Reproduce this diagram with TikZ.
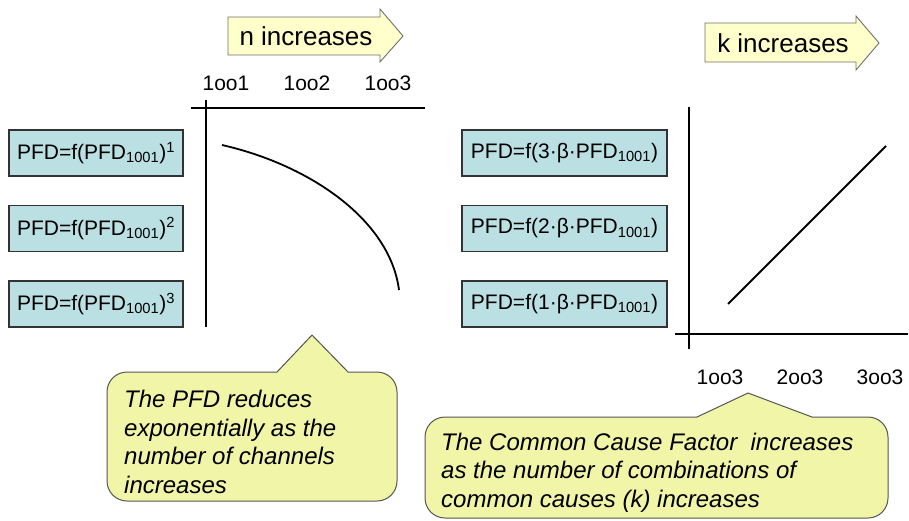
\documentclass[tikz,border=0pt]{standalone}
\usepackage{fontspec}
\setmainfont{Liberation Sans}
\usepackage{xcolor}
\usepackage{tikz}
\definecolor{boxfill}{HTML}{BBE0E3}
\definecolor{boxline}{HTML}{333333}
\definecolor{arrfill}{HTML}{FFFFCC}
\definecolor{arrline}{HTML}{707070}
\definecolor{notefill}{HTML}{F0F5A8}
\definecolor{noteline}{HTML}{555555}
\tikzset{
  pfdbox/.style={draw=boxline, line width=1.1pt, fill=boxfill, inner sep=0pt,
    minimum width=#1, minimum height=46pt, font=\fontsize{21}{25}\selectfont},
  incarrow/.style={draw=arrline, line width=0.9pt, fill=arrfill},
  inctext/.style={anchor=base, inner sep=0pt, font=\fontsize{26}{30}\selectfont},
  axis/.style={draw=black, line width=2pt},
  graphline/.style={draw=black, line width=1.8pt},
  ticklab/.style={inner sep=0pt, font=\fontsize{21}{25}\selectfont},
  note/.style={draw=noteline, line width=1pt, fill=notefill},
  notetext/.style={anchor=base west, inner sep=0pt, align=left,
    font=\fontsize{24}{28.5}\selectfont\itshape}
}

\begin{document}
\begin{tikzpicture}[x=1pt,y=-1pt]
  \useasboundingbox (0,0) rectangle (909,520);

  % arrows above the two graphs
  \draw[incarrow] (228,17) -- (380,17) -- (380,9) -- (403,36) -- (380,62)
    -- (380,55) -- (228,55) -- cycle;
  \node[inctext] (ninc) at (306,45) {n increases};
  \draw[incarrow] (705,23) -- (856,23) -- (856,16) -- (879,43) -- (856,70)
    -- (856,62) -- (705,62) -- cycle;
  \node[inctext] (kinc) at (783,52) {k increases};

  % left graph: 1oo1 .. 1oo3
  \coordinate (nY1) at (206,100);
  \coordinate (nY2) at (206,327);
  \coordinate (nX1) at (191,108);
  \coordinate (nX2) at (425,108);
  \draw[axis] (nY1) -- (nY2);
  \draw[axis] (nX1) -- (nX2);
  \foreach \x/\t in {226/1oo1, 307/1oo2, 388/1oo3}
    \node[ticklab] (t\t) at (\x,83) {\t};
  \draw[graphline] (222,145) .. controls (310,165) and (390,220) .. (399,290);

  \node[pfdbox=174pt] (pfdA) at (96,153)   {PFD=f(PFD\textsubscript{1001})\textsuperscript{1}};
  \node[pfdbox=174pt] (pfdB) at (96,228.5) {PFD=f(PFD\textsubscript{1001})\textsuperscript{2}};
  \node[pfdbox=174pt] (pfdC) at (96,304)   {PFD=f(PFD\textsubscript{1001})\textsuperscript{3}};

  % right graph: 1oo3 .. 3oo3
  \coordinate (kY1) at (689,107);
  \coordinate (kY2) at (689,349);
  \coordinate (kX1) at (675,334);
  \coordinate (kX2) at (908,334);
  \draw[axis] (kY1) -- (kY2);
  \draw[axis] (kX1) -- (kX2);
  \foreach \x/\t in {720/1oo3, 800/2oo3, 880/3oo3}
    \node[ticklab] (t\t) at (\x,377) {\t};
  \draw[graphline] (728,304) -- (886,146);

  \node[pfdbox=205pt] (ccfA) at (564.5,153)   {PFD=f(3·β·PFD\textsubscript{1001})};
  \node[pfdbox=205pt] (ccfB) at (564.5,228.5) {PFD=f(2·β·PFD\textsubscript{1001})};
  \node[pfdbox=205pt] (ccfC) at (564.5,304)   {PFD=f(1·β·PFD\textsubscript{1001})};

  % callouts (text anchored at the baseline of the last line)
  \draw[note] (312,335) -- (348,372) -- (377,372) arc (270:360:20) -- (397,481)
    arc (0:90:20) -- (127,501) arc (90:180:20) -- (107,392) arc (180:270:20)
    -- (277,372) -- cycle;
  \node[notetext] (noteN) at (124,493) {The PFD reduces\\exponentially as the\\number of channels\\increases};

  \draw[note] (748,393) -- (812,417) -- (868,417) arc (270:360:20) -- (888,498)
    arc (0:90:20) -- (445,518) arc (90:180:20) -- (425,437) arc (180:270:20)
    -- (697,417) -- cycle;
  \node[notetext] (noteK) at (441,507) {The Common Cause Factor\ \ increases\\as the number of combinations of\\common causes (k) increases};
\end{tikzpicture}
\end{document}
